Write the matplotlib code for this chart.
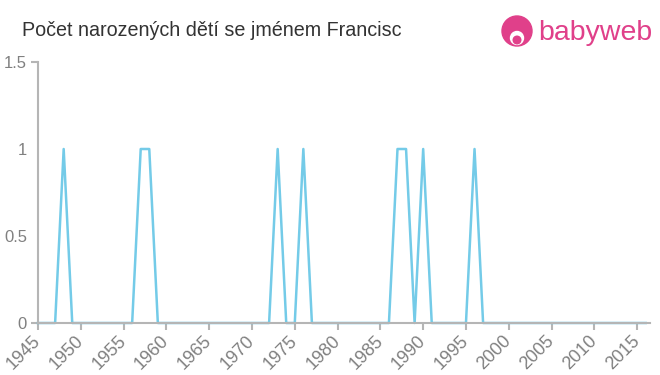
import numpy as np
import matplotlib.pyplot as plt
from matplotlib.patches import Circle

plt.rcParams['font.family'] = ['Liberation Sans', 'DejaVu Sans']

# --- data ---
years = list(range(1945, 2017))
peak_years = [1948, 1957, 1958, 1973, 1976, 1987, 1988, 1990, 1996]
counts = [1 if y in peak_years else 0 for y in years]
x_ticks = list(range(1945, 2016, 5))
y_ticks = [0, 0.5, 1, 1.5]
y_labels = ["0", "0.5", "1", "1.5"]

line_color = "#74cbe8"
axis_color = "#b5b5b5"
label_color = "#808080"

fig = plt.figure(figsize=(6.6, 3.75), dpi=100)
ax = fig.add_axes([38 / 660, 1 - 323 / 375, 612 / 660, 261 / 375])

ax.plot(years, counts, color=line_color, lw=1.8, clip_on=False)
ax.set_xlim(1945, 2016.5)
ax.set_ylim(0, 1.5)

ax.set_xticks(x_ticks)
ax.set_xticklabels([str(t) for t in x_ticks], rotation=45, ha="right", va="center",
                   rotation_mode="anchor", fontsize=13, color=label_color)
ax.set_yticks(y_ticks)
ax.set_yticklabels(y_labels, fontsize=12, color=label_color)

for side in ("top", "right"):
    ax.spines[side].set_visible(False)
for side in ("left", "bottom"):
    ax.spines[side].set_color(axis_color)
    ax.spines[side].set_linewidth(1.5)
ax.tick_params(axis="x", length=5, width=1.5, color=axis_color, pad=6)
ax.tick_params(axis="y", length=5, width=1.5, color=axis_color, pad=3)
for t in ax.yaxis.get_major_ticks()[1:3]:
    t.tick1line.set_visible(False)

# title
fig.text(22 / 660, 1 - 30 / 375, "Počet narozených dětí se jménem Francisc",
         fontsize=14.2, color="#333333", va="center", ha="left")

# babyweb logo
pink = "#e0408a"
logo = fig.add_axes([0, 0, 1, 1], facecolor="none")
logo.set_xlim(0, 660)
logo.set_ylim(375, 0)
logo.axis("off")
logo.add_patch(Circle((517, 31), 15, color=pink))
logo.add_patch(Circle((517, 38), 6.5, color="white"))
logo.add_patch(Circle((517, 40), 3.8, color=pink))
logo.text(538, 33, "babyweb", fontsize=20.5, color=pink, va="center", ha="left")

fig.savefig("out.png", dpi=100)
